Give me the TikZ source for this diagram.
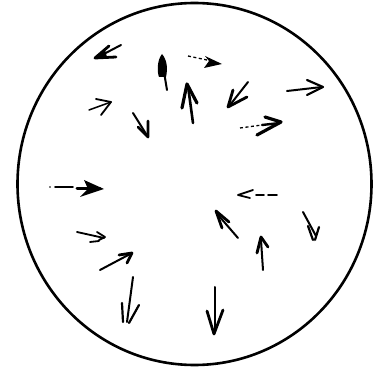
\documentclass[tikz,border=0pt]{standalone}
\begin{document}
\begin{tikzpicture}[x=1pt,y=-1pt,
  shaft/.style={line width=2pt,line cap=round},
  thinshaft/.style={line width=1.5pt,line cap=round},
  dshaft/.style={line width=1.3pt,dash pattern=on 3pt off 2.5pt},
  barb/.style={line width=2.8pt,line cap=round,line join=round},
  lbarb/.style={line width=1.8pt,line cap=round,line join=round}]
\useasboundingbox (0,0) rectangle (373,369);
% circle
\draw[line width=2.6pt] (194.5,184) ellipse [x radius=177, y radius=181];
% 1
\draw[shaft] (121,45)--(100,56);
\draw[barb] (109,46)--(95,58)--(116,57);
\fill (95,58)--(105,50)--(107,57)--cycle;
% 2
\fill (162,54) .. controls (157,60) and (157,72) .. (159,77) -- (166,77) .. controls (168,68) and (167,60) .. (162,54);
\draw[shaft] (164,72)--(167,90);
% 3
\draw[thinshaft] (89,110)--(111,102);
\draw[lbarb] (96,99)--(111,102)--(101,115);
% 4
\draw[shaft] (133,113)--(148,137);
\draw[barb] (138,127)--(148,137)--(148,121);
% 5
\draw[shaft,line width=2.6pt] (193,123)--(188,86);
\draw[barb,line width=3.2pt] (182,108)--(187,84)--(197,103);
% 6
\draw[dshaft] (188,56)--(207,60);
\fill (222,64)--(205,56)--(209,61)--(204,68)--cycle;
% 7
\draw[shaft] (248,82)--(230,105);
\draw[barb] (233,90)--(228,107)--(247,97);
% 8
\draw[shaft] (287,91)--(322,87);
\draw[barb,line width=2.2pt] (307,80)--(323,87)--(307,95);
% 9
\draw[dshaft] (240,128)--(262,125);
\draw[shaft,line width=2.4pt] (262,125)--(280,123);
\draw[barb,line width=3.2pt] (265,117)--(281,122)--(257,135);
% 10
\fill (50,187) circle (0.9pt);
\draw[shaft,line width=1.6pt] (55,187)--(73,187);
\draw[shaft,line width=3pt] (77,189)--(100,189);
\fill (104,189)--(84,180)--(88,189)--(80,197)--cycle;
% 11
\draw[lbarb] (77,232)--(104,238);
\draw[lbarb] (97,232)--(105,237)--(99,240);
\draw[lbarb] (90,242)--(99,241);
% 12
\draw[shaft] (100,270)--(132,253);
\draw[barb] (119,255)--(132,253)--(127,263);
% 13
\draw[shaft] (133,277)--(127,322);
\draw[barb,line width=2.2pt] (122,303)--(123,322);
\draw[barb,line width=2.2pt] (139,305)--(129,323);
% 14
\draw[lbarb] (253,190)--(238,195)--(250,198);
\draw[lbarb] (256,195)--(264,195);
\draw[lbarb] (268,195)--(277,195);
% 15
\draw[shaft] (238,238)--(219,216);
\draw[barb] (222,228)--(216,211)--(229,222);
% 16
\draw[shaft] (303,212)--(316,236);
\draw[lbarb,line width=2.2pt] (308,226)--(313,240);
\draw[lbarb,line width=2.2pt] (319,227)--(315,240);
% 17
\draw[shaft] (263,270)--(261,240);
\draw[barb] (257,253)--(261,237)--(268,247);
% 18
\draw[shaft] (215,287)--(215,330);
\draw[barb] (207,311)--(214,334)--(223,310);
\end{tikzpicture}
\end{document}
